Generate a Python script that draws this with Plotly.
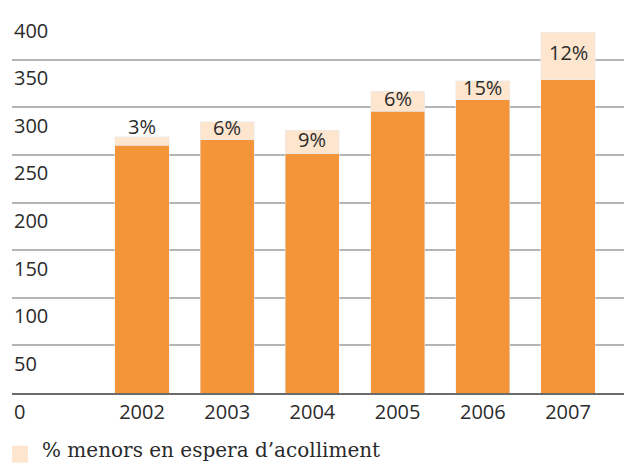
import plotly.graph_objects as go

years = ["2002", "2003", "2004", "2005", "2006", "2007"]
base_values = [260, 266, 251, 296, 308, 329]
waiting_values = [9, 19, 25, 21, 20, 50]
pct_labels = ["3%", "6%", "9%", "6%", "15%", "12%"]
y_ticks = [0, 50, 100, 150, 200, 250, 300, 350, 400]
legend_label = "% menors en espera d’acolliment"

DARK = "#F4953A"
LIGHT = "#FDE5CE"
TXT = "#2b2b2b"
SANS = "Open Sans"

fig = go.Figure()
fig.add_trace(go.Bar(x=years, y=base_values, marker_color=DARK, width=0.635,
                     showlegend=False, hoverinfo="skip"))
fig.add_trace(go.Bar(x=years, y=waiting_values, marker_color=LIGHT, width=0.635,
                     name=legend_label, showlegend=False, hoverinfo="skip"))

annotations = []
# percentage labels
for i, (b, w, t) in enumerate(zip(base_values, waiting_values, pct_labels)):
    total = b + w
    if w * 0.9525 < 15:
        annotations.append(dict(x=i, y=total, xref="x", yref="y", text=t,
                                showarrow=False, yanchor="bottom", yshift=-5,
                                font=dict(family=SANS, size=20, color=TXT)))
    else:
        annotations.append(dict(x=i, y=b + w / 2, xref="x", yref="y", text=t,
                                showarrow=False, yanchor="middle", yshift=3,
                                font=dict(family=SANS, size=20, color=TXT)))
# y tick labels under gridlines
for v in y_ticks:
    annotations.append(dict(x=0, y=v, xref="paper", yref="y", text=str(v),
                            showarrow=False, xanchor="left", yanchor="middle",
                            yshift=-18, font=dict(family=SANS, size=20, color=TXT)))
# legend text
annotations.append(dict(x=(40 - 12) / 612, y=(393.3 - 450) / 381, xref="paper", yref="paper",
                        text=legend_label, showarrow=False, xanchor="left", yanchor="middle",
                        font=dict(family="DejaVu Serif", size=20, color=TXT)))

shapes = [dict(type="rect", xref="paper", yref="paper",
               x0=0, x1=16 / 612, y0=(393.3 - 446) / 381, y1=(393.3 - 463) / 381,
               fillcolor=LIGHT, line=dict(width=0))]

fig.update_layout(
    barmode="stack",
    width=624, height=463,
    margin=dict(l=12, r=0, t=12, b=70),
    paper_bgcolor="white", plot_bgcolor="white",
    annotations=annotations, shapes=shapes,
    xaxis=dict(type="category", range=[-1.526, 5.657], showgrid=False,
               showline=True, linecolor="#6b6b6b", linewidth=2,
               ticks="", tickfont=dict(family=SANS, size=20, color=TXT),
               ticklabelstandoff=0),
    yaxis=dict(range=[0, 400], tickvals=y_ticks, showticklabels=False,
               showgrid=True, gridcolor="#b5b5b5", gridwidth=1.5, zeroline=False),
)

fig.write_html("out.html")
